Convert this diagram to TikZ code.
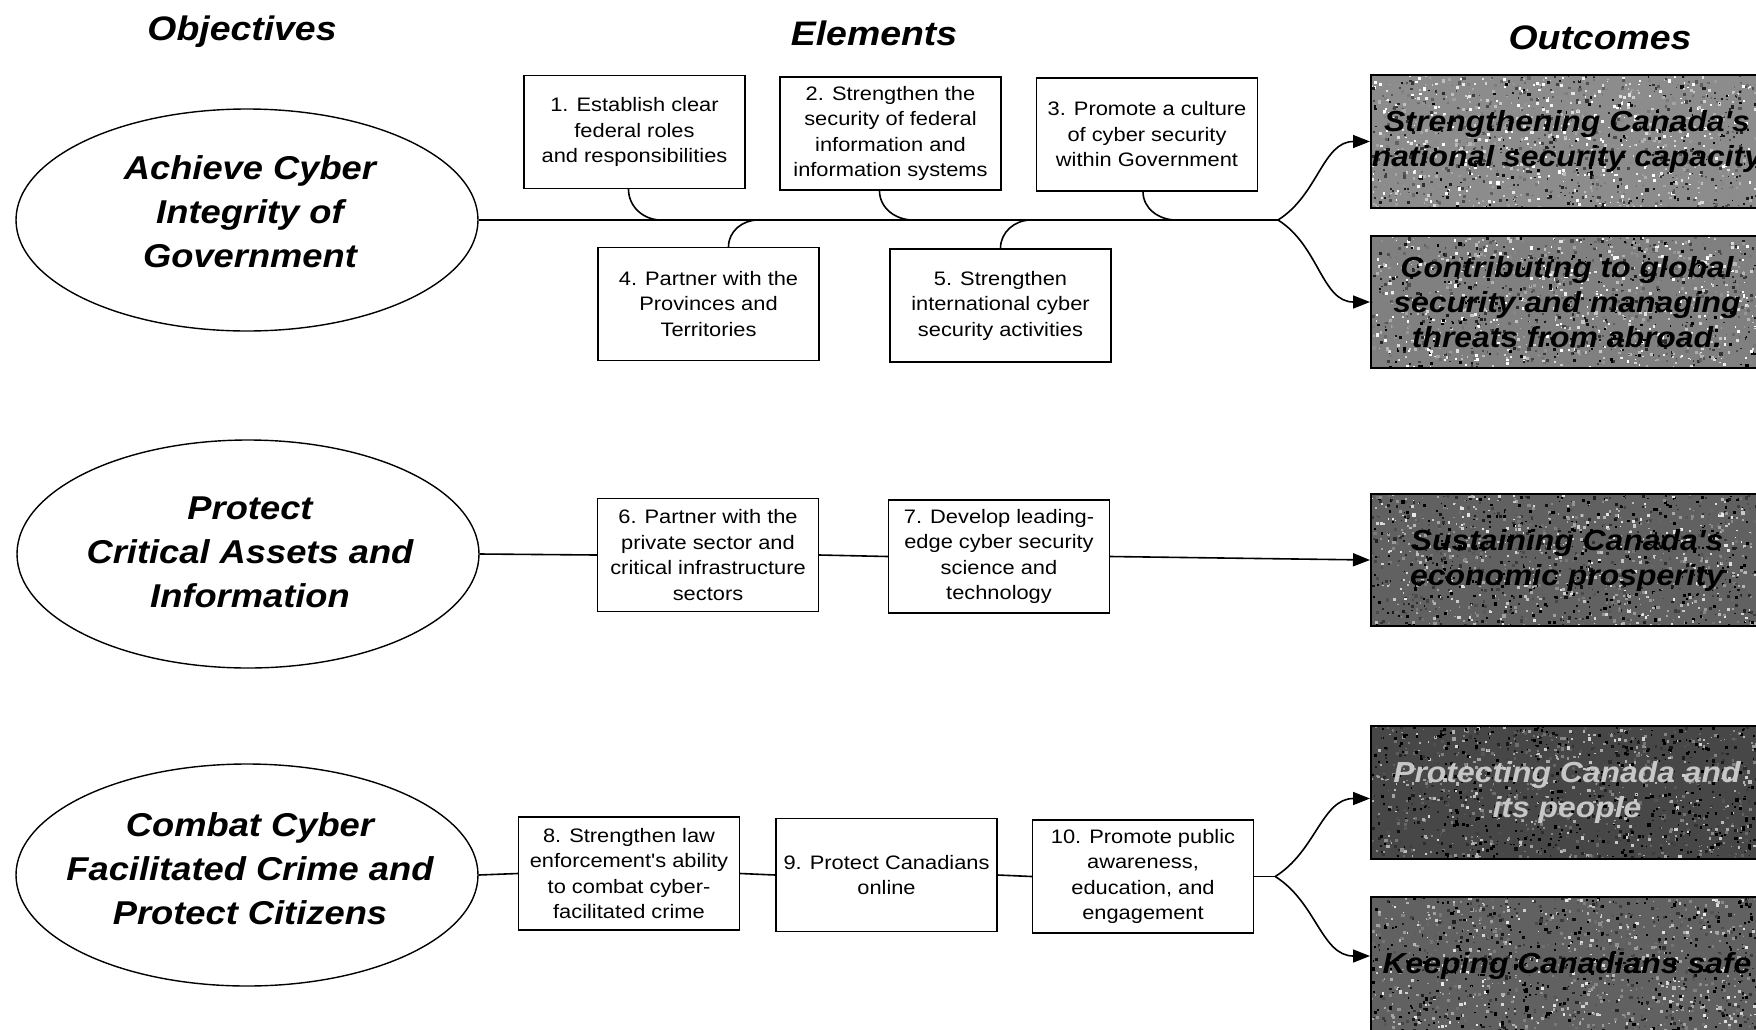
\documentclass[tikz,border=0pt]{standalone}
\usepackage{fontspec}
\setmainfont{Liberation Sans}
\newfontfamily\elemfam{Liberation Sans}[FakeStretch=1.12]
\newfontfamily\headfam{Liberation Sans}[FakeStretch=1.1]
\usetikzlibrary{shapes.geometric,arrows.meta,calc}

% grainy grey background for an outcome panel: x0, y0, x1, y1, mean grey
\newcommand\grainpanel[5]{%
  \begin{scope}
    \clip (#1,#2) rectangle (#3,#4);
    \fill[black!#5] (#1,#2) rectangle (#3,#4);
    \foreach \k in {1,...,1500}{
      \pgfmathsetmacro\gx{#1+(#3-#1)*rnd}
      \pgfmathsetmacro\gy{#2+(#4-#2)*rnd}
      \pgfmathsetmacro\gs{1.2+2.2*rnd}
      \pgfmathsetmacro\gw{max(0,min(100,#5+110*(rnd-0.5)))}
      \fill[black!\gw] (\gx,\gy) rectangle ++(\gs,\gs);
    }
  \end{scope}}

\tikzset{
  elembox/.style={draw, line width=1.4pt, minimum width=221pt, minimum height=113pt,
    inner sep=2pt, align=center, font=\elemfam\fontsize{19.5}{25.5}\selectfont},
  objshape/.style={ellipse, draw, line width=1.4pt, minimum width=462pt, inner sep=0pt},
  objtext/.style={align=center, font=\headfam\bfseries\itshape\fontsize{33}{44}\selectfont},
  heading/.style={anchor=base, font=\headfam\bfseries\itshape\fontsize{34}{40}\selectfont},
  outbox/.style={draw, line width=2pt, minimum width=392pt, minimum height=#1,
    inner sep=0pt, align=center,
    font=\headfam\bfseries\itshape\fontsize{29}{35}\selectfont},
  conn/.style={line width=1.6pt},
  arr/.style={conn, -{Triangle[length=17pt,width=13pt]}},
}

\begin{document}
\begin{tikzpicture}[x=1pt, y=-1pt]
\pgfmathsetseed{7}
\useasboundingbox (0,0) rectangle (1756,1029);
\clip (0,0) rectangle (1756,1029);
\fill[white] (0,0) rectangle (1756,1029);

% column headings
\node[heading] (hobj) at (242,40) {Objectives};
\node[heading] (helem) at (874,45) {Elements};
\node[heading] (hout) at (1600,49) {Outcomes};

% objectives
\node[objshape, minimum height=222pt] (e1) at (247,220) {};
\node[objtext] (e1t) at (250,212) {Achieve Cyber\\Integrity of\\Government};
\node[objshape, minimum height=228pt] (e2) at (248,554) {};
\node[objtext] (e2t) at (250,552) {Protect\\Critical Assets and\\Information};
\node[objshape, minimum height=222pt] (e3) at (247,875) {};
\node[objtext] (e3t) at (250,869) {Combat Cyber\\Facilitated Crime and\\Protect Citizens};

% elements
\node[elembox] (b1) at (634.5,132) {1. Establish clear\\federal roles\\and responsibilities};
\node[elembox] (b2) at (890.5,133.5) {2. Strengthen the\\security of federal\\information and\\information systems};
\node[elembox] (b3) at (1147,134.5) {3. Promote a culture\\of cyber security\\within Government};
\node[elembox] (b4) at (708.5,304) {4. Partner with the\\Provinces and\\Territories};
\node[elembox] (b5) at (1000.5,305.5) {5. Strengthen\\international cyber\\security activities};
\node[elembox] (b6) at (708,555) {6. Partner with the\\private sector and\\critical infrastructure\\sectors};
\node[elembox] (b7) at (999,556.5) {7. Develop leading-\\edge cyber security\\science and\\technology};
\node[elembox] (b8) at (629,873.5) {8. Strengthen law\\enforcement's ability\\to combat cyber-\\facilitated crime};
\node[elembox] (b9) at (886.5,875) {9. Protect Canadians\\online};
\node[elembox] (b10) at (1143,876.5) {10. Promote public\\awareness,\\education, and\\engagement};

% outcomes: grainy panels, then framed texts on top
\grainpanel{1371}{75}{1763}{208}{45}
\grainpanel{1371}{236}{1763}{368}{50}
\grainpanel{1371}{494}{1763}{626}{62}
\grainpanel{1371}{726}{1763}{859}{72}
\grainpanel{1371}{897}{1763}{1035}{62}
\node[outbox=133pt] (o1) at (1567,141.5) {Strengthening Canada's\\national security capacity};
\node[outbox=132pt] (o2) at (1567,302) {Contributing to global\\security and managing\\threats from abroad.};
\node[outbox=132pt] (o3) at (1567,560) {Sustaining Canada's\\economic prosperity};
\node[outbox=133pt, text=black!22] (o4) at (1567,792.5) {Protecting Canada and\\its people};
\node[outbox=138pt] (o5) at (1567,966) {Keeping Canadians safe};

% first objective: spine with joining elements
\coordinate (br1) at (1278,220);
\coordinate (j1) at (661,220);
\coordinate (j2) at (913,220);
\coordinate (j3) at (1176,220);
\coordinate (j4) at (758,220);
\coordinate (j5) at (1031,220);
\draw[conn] (e1.east) -- (br1);
\draw[conn] ([xshift=-6pt]b1.south) to[out=-90,in=180] (j1);
\draw[conn] ([xshift=-11pt]b2.south) to[out=-90,in=180] (j2);
\draw[conn] ([xshift=-4pt]b3.south) to[out=-90,in=180] (j3);
\draw[conn] ([xshift=20pt]b4.north) to[out=90,in=180] (j4);
\draw[conn] (b5.north) to[out=90,in=180] (j5);
\draw[arr] (br1) to[out=32,in=180] (o1.west);
\draw[arr] (br1) to[out=-32,in=180] (o2.west);

% second objective: chain of elements
\draw[conn] (e2.east) -- (b6.west);
\draw[conn] (b6.east) -- (b7.west);
\draw[arr] (b7.east) -- (o3.west);

% third objective: chain with a fork
\coordinate (br3) at ($(b10.east)+(21,0)$);
\draw[conn] (e3.east) -- (b8.west);
\draw[conn] (b8.east) -- (b9.west);
\draw[conn] (b9.east) -- (b10.west);
\draw[conn] (b10.east) -- (br3);
\draw[arr] (br3) to[out=32,in=180] ($(o4.west)+(0,6)$);
\draw[arr] (br3) to[out=-32,in=180] ($(o5.north west)+(0,60)$);
\end{tikzpicture}
\end{document}
